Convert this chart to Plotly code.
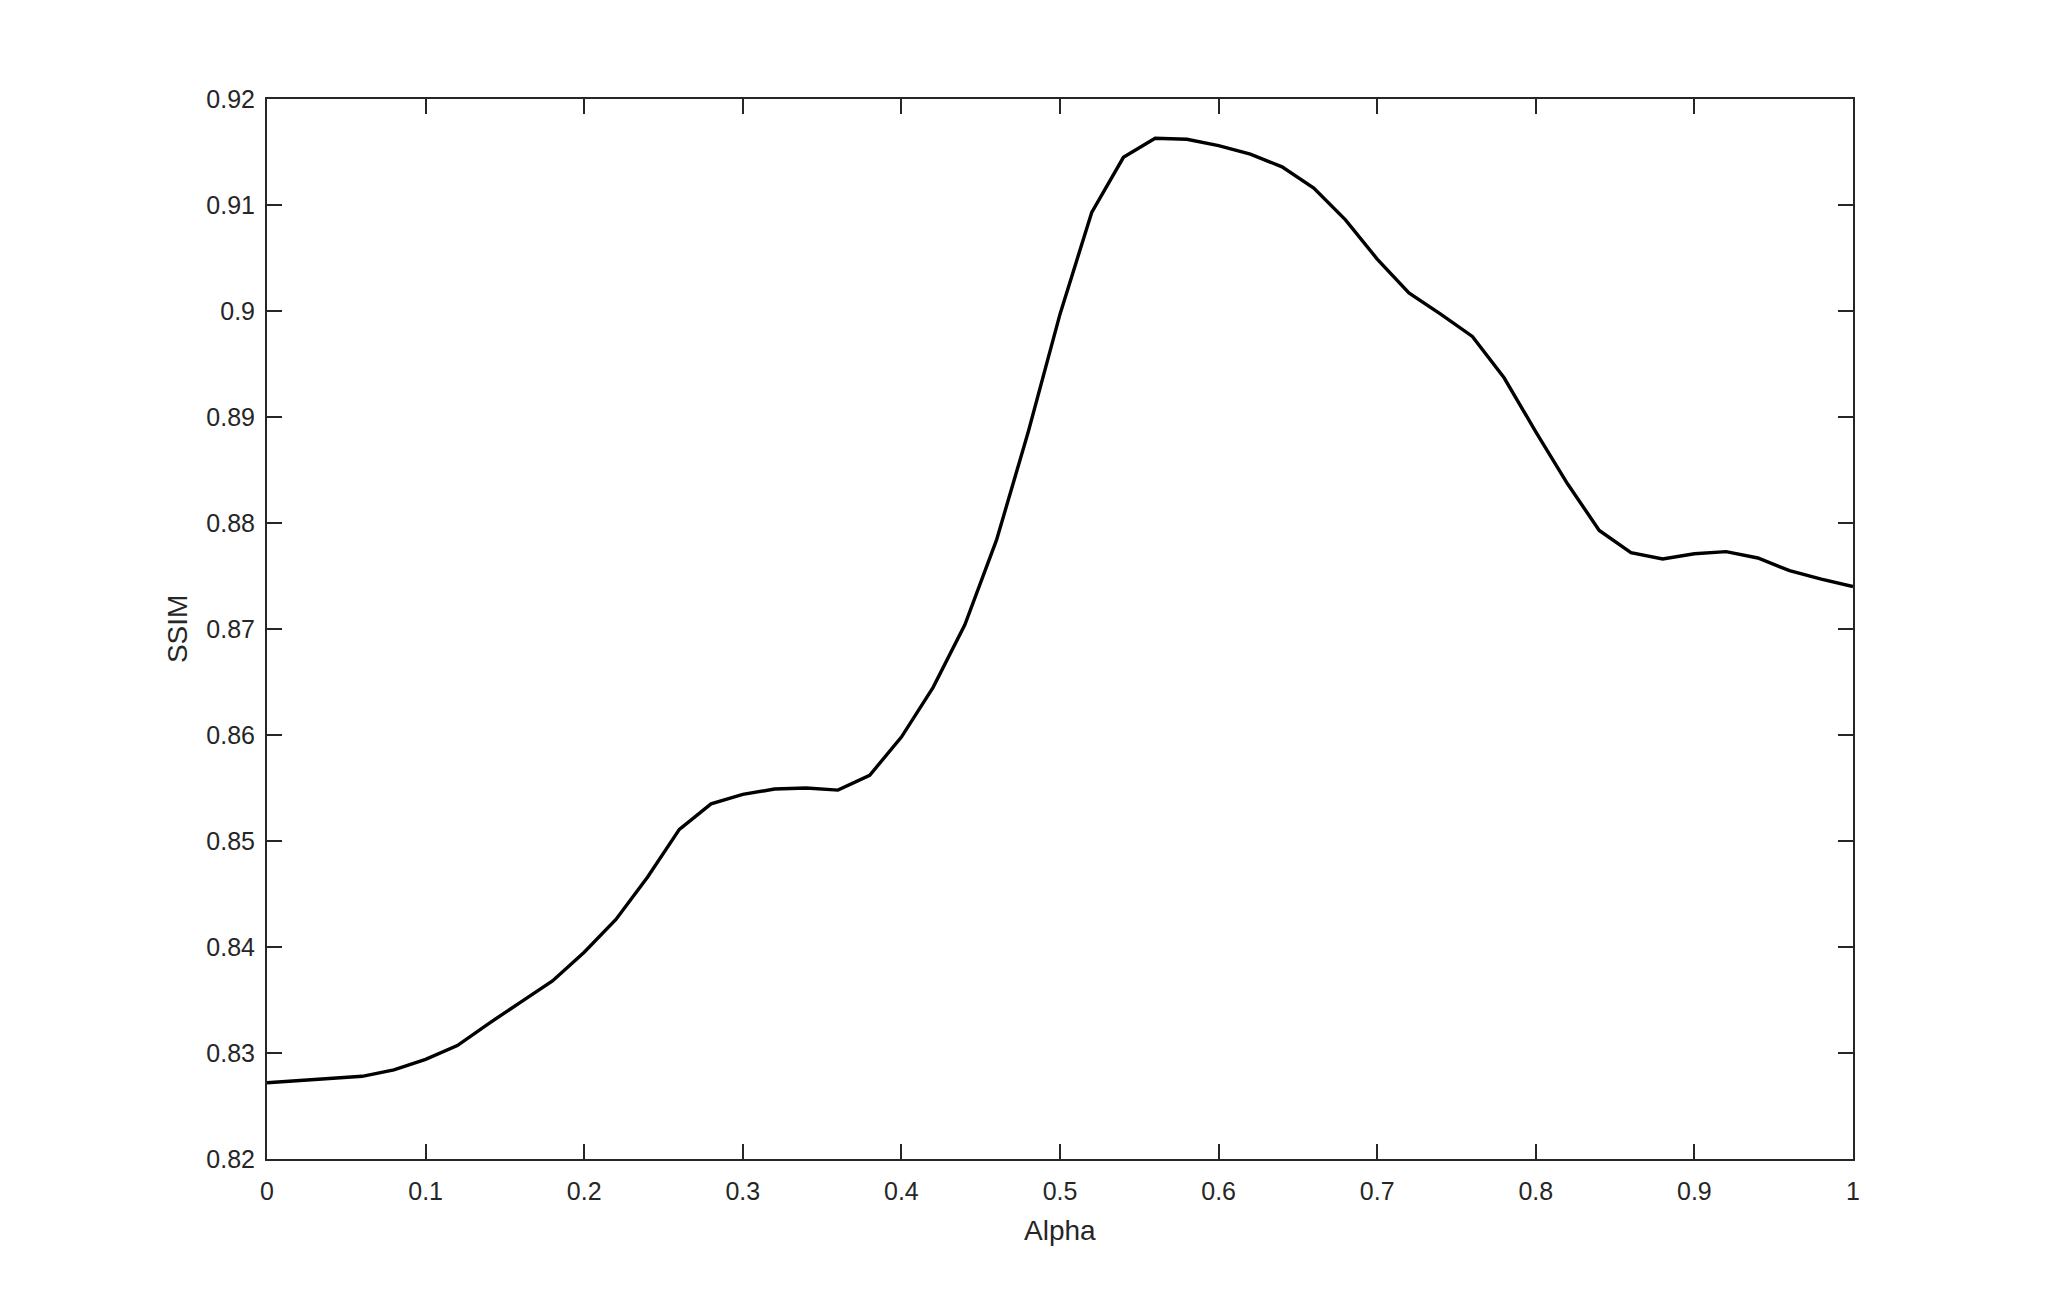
import plotly.graph_objects as go

alpha = [round(i * 0.02, 2) for i in range(51)]
ssim = [
    0.8272, 0.8274, 0.8276, 0.8278, 0.8284, 0.8294, 0.8307, 0.8328, 0.8348, 0.8368,
    0.8395, 0.8426, 0.8466, 0.8511, 0.8535, 0.8544, 0.8549, 0.8550, 0.8548, 0.8562,
    0.8598, 0.8645, 0.8704, 0.8784, 0.8886, 0.8997, 0.9093, 0.9145, 0.9163, 0.9162,
    0.9156, 0.9148, 0.9136, 0.9116, 0.9086, 0.9049, 0.9017, 0.8997, 0.8976, 0.8937,
    0.8886, 0.8837, 0.8793, 0.8772, 0.8766, 0.8771, 0.8773, 0.8767, 0.8755, 0.8747,
    0.8740,
]

x_ticks = [0, 0.1, 0.2, 0.3, 0.4, 0.5, 0.6, 0.7, 0.8, 0.9, 1]
x_tick_text = ["0", "0.1", "0.2", "0.3", "0.4", "0.5", "0.6", "0.7", "0.8", "0.9", "1"]
y_ticks = [0.82, 0.83, 0.84, 0.85, 0.86, 0.87, 0.88, 0.89, 0.9, 0.91, 0.92]
y_tick_text = ["0.82", "0.83", "0.84", "0.85", "0.86", "0.87", "0.88", "0.89", "0.9", "0.91", "0.92"]

FONT = "Liberation Sans, Arial, Helvetica, sans-serif"
AX = "#262626"

fig = go.Figure()
fig.add_trace(go.Scatter(x=alpha, y=ssim, mode="lines",
                         line=dict(color="#000000", width=3.4), showlegend=False))

axis_common = dict(
    showgrid=False, zeroline=False, showline=True, linecolor=AX, linewidth=2,
    mirror="allticks", ticks="inside", ticklen=15, tickwidth=1.6, tickcolor=AX,
    tickfont=dict(family=FONT, size=25, color=AX),
)
fig.update_xaxes(range=[0, 1], tickvals=x_ticks, ticktext=x_tick_text, ticklabelstandoff=9, **axis_common)
fig.update_yaxes(range=[0.82, 0.92], tickvals=y_ticks, ticktext=y_tick_text, ticklabelstandoff=5, **axis_common)

fig.add_annotation(text="Alpha", xref="paper", yref="paper", x=0.5, y=-0.0673,
                   xanchor="center", yanchor="middle", showarrow=False,
                   font=dict(family=FONT, size=28, color=AX))
fig.add_annotation(text="SSIM", xref="paper", yref="paper", x=-0.0567, y=0.5,
                   xanchor="center", yanchor="middle", textangle=-90, showarrow=False,
                   font=dict(family=FONT, size=28, color=AX))

fig.update_layout(
    width=2048, height=1304,
    margin=dict(l=259, r=203, t=91, b=153, autoexpand=False),
    paper_bgcolor="white", plot_bgcolor="white",
)
fig.write_html("out.html")
